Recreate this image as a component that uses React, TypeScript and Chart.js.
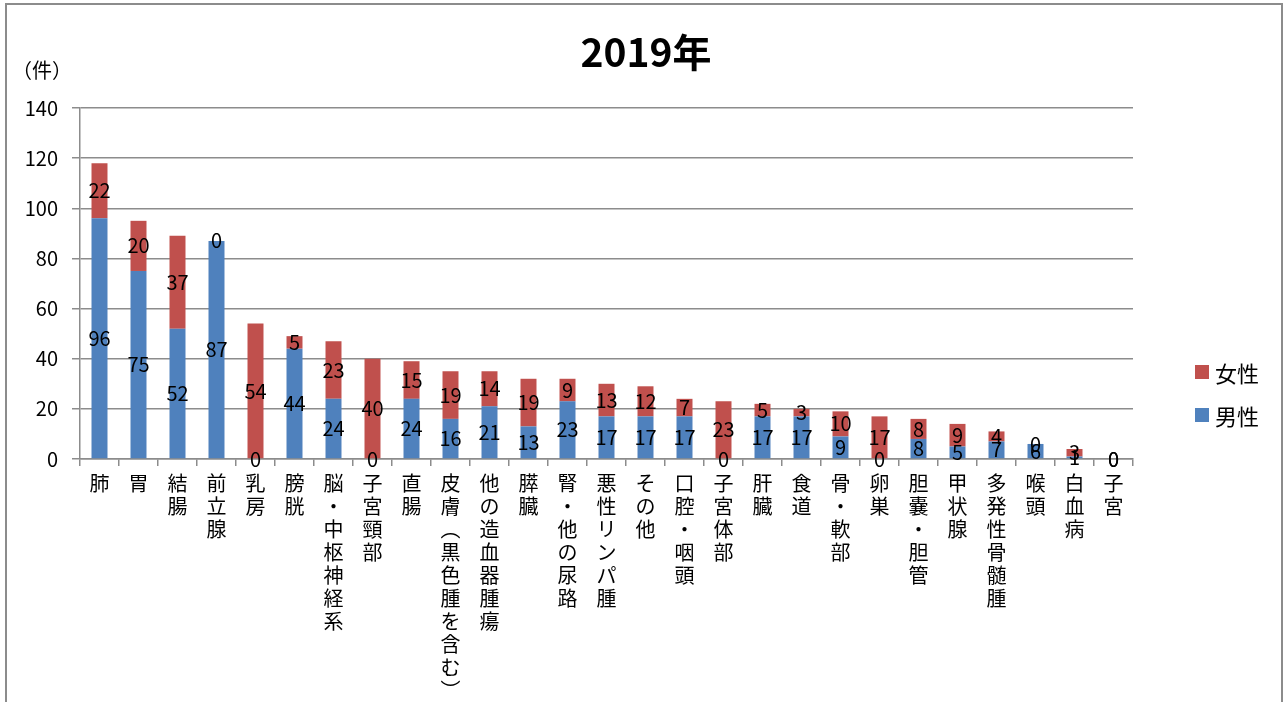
import React, { useEffect, useRef } from "react";
import { Chart, registerables } from "chart.js";

Chart.register(...registerables);

const chartTitle = "2019年";
const unitLabel = "（件）";
const seriesNames = ["男性", "女性"];
const seriesColors = ["#4F81BD", "#C0504D"];

const categories = [
  "肺", "胃", "結腸", "前立腺", "乳房", "膀胱", "脳・中枢神経系", "子宮頸部", "直腸",
  "皮膚（黒色腫を含む）", "他の造血器腫瘍", "膵臓", "腎・他の尿路", "悪性リンパ腫", "その他",
  "口腔・咽頭", "子宮体部", "肝臓", "食道", "骨・軟部", "卵巣", "胆嚢・胆管", "甲状腺",
  "多発性骨髄腫", "喉頭", "白血病", "子宮",
];
const maleValues = [96, 75, 52, 87, 0, 44, 24, 0, 24, 16, 21, 13, 23, 17, 17, 17, 0, 17, 17, 9, 0, 8, 5, 7, 6, 1, 0];
const femaleValues = [22, 20, 37, 0, 54, 5, 23, 40, 15, 19, 14, 19, 9, 13, 12, 7, 23, 5, 3, 10, 17, 8, 9, 4, 0, 3, 0];

const yMin = 0;
const yMax = 140;
const yStep = 20;

const FONT = "'Noto Sans CJK JP', 'Noto Sans', sans-serif";

const verticalLabel = (s: string) =>
  Array.from(s.replace(/（/g, "︵").replace(/）/g, "︶"));

const valueLabelPlugin = {
  id: "valueLabels",
  afterDatasetsDraw(chart: any) {
    const ctx = chart.ctx;
    ctx.save();
    ctx.font = `20px ${FONT}`;
    ctx.fillStyle = "#000";
    ctx.textAlign = "center";
    ctx.textBaseline = "middle";
    chart.data.datasets.forEach((ds: any, i: number) => {
      const meta = chart.getDatasetMeta(i);
      meta.data.forEach((el: any, j: number) => {
        const p = el.getProps(["x", "y", "base"], true);
        ctx.fillText(String(ds.data[j]), p.x, (p.y + p.base) / 2);
      });
    });
    ctx.restore();
  },
};

export default function App() {
  const canvasRef = useRef<HTMLCanvasElement | null>(null);

  useEffect(() => {
    if (!canvasRef.current) return;
    const chart = new Chart(canvasRef.current, {
      type: "bar",
      data: {
        labels: categories.map(verticalLabel),
        datasets: [
          {
            label: seriesNames[0],
            data: maleValues,
            backgroundColor: seriesColors[0],
            barPercentage: 0.82,
            categoryPercentage: 0.5,
          },
          {
            label: seriesNames[1],
            data: femaleValues,
            backgroundColor: seriesColors[1],
            barPercentage: 0.82,
            categoryPercentage: 0.5,
          },
        ],
      },
      plugins: [valueLabelPlugin],
      options: {
        animation: false,
        responsive: true,
        maintainAspectRatio: false,
        devicePixelRatio: 1,
        layout: { padding: { left: 0, right: 154, top: 108, bottom: 0 } },
        plugins: {
          legend: { display: false },
          tooltip: { enabled: false },
          title: { display: false },
        },
        scales: {
          x: {
            stacked: true,
            afterFit: (scale: any) => {
              scale.height = 243;
            },
            grid: {
              drawOnChartArea: false,
              drawTicks: true,
              tickLength: 7,
              color: "#8c8c8c",
              lineWidth: 1.5,
            },
            border: { color: "#8c8c8c", width: 1.5 },
            ticks: {
              color: "#000",
              maxRotation: 0,
              minRotation: 0,
              autoSkip: false,
              padding: 6,
              font: { family: FONT, size: 20, lineHeight: 1.15 },
            },
          },
          y: {
            stacked: true,
            min: yMin,
            max: yMax,
            afterFit: (scale: any) => {
              scale.width = 80;
            },
            grid: {
              color: "#8c8c8c",
              lineWidth: 1.5,
              tickLength: 8,
            },
            border: { color: "#8c8c8c", width: 1.5 },
            ticks: {
              stepSize: yStep,
              color: "#000",
              padding: 14,
              font: { family: FONT, size: 20 },
            },
          },
        },
      },
    });
    return () => chart.destroy();
  }, []);

  return (
    <div style={{ position: "fixed", left: 0, top: 0, width: 1287, height: 702, background: "#fff", overflow: "hidden", fontFamily: FONT }}>
      <div style={{ position: "absolute", left: 5, top: 3, width: 1278, height: 760, border: "2px solid #8c8c8c", boxSizing: "border-box" }} />
      <div style={{ position: "absolute", left: 0, top: 0, width: 1287, height: 702 }}>
        <canvas ref={canvasRef} />
      </div>
      <div style={{ position: "absolute", left: 446, width: 400, top: 26, height: 48, lineHeight: "48px", textAlign: "center", fontSize: 39, fontWeight: "bold", color: "#000" }}>{chartTitle}</div>
      <div style={{ position: "absolute", left: 12, top: 56, fontSize: 20, lineHeight: "28px", color: "#000" }}>{unitLabel}</div>
      {[1, 0].map((idx, k) => (
        <div key={idx} style={{ position: "absolute", left: 1195, top: 358 + k * 43, height: 28, display: "flex", alignItems: "center", fontSize: 22, color: "#000" }}>
          <span style={{ display: "inline-block", width: 14, height: 14, background: seriesColors[idx], marginRight: 6 }} />
          <span>{seriesNames[idx]}</span>
        </div>
      ))}
    </div>
  );
}
